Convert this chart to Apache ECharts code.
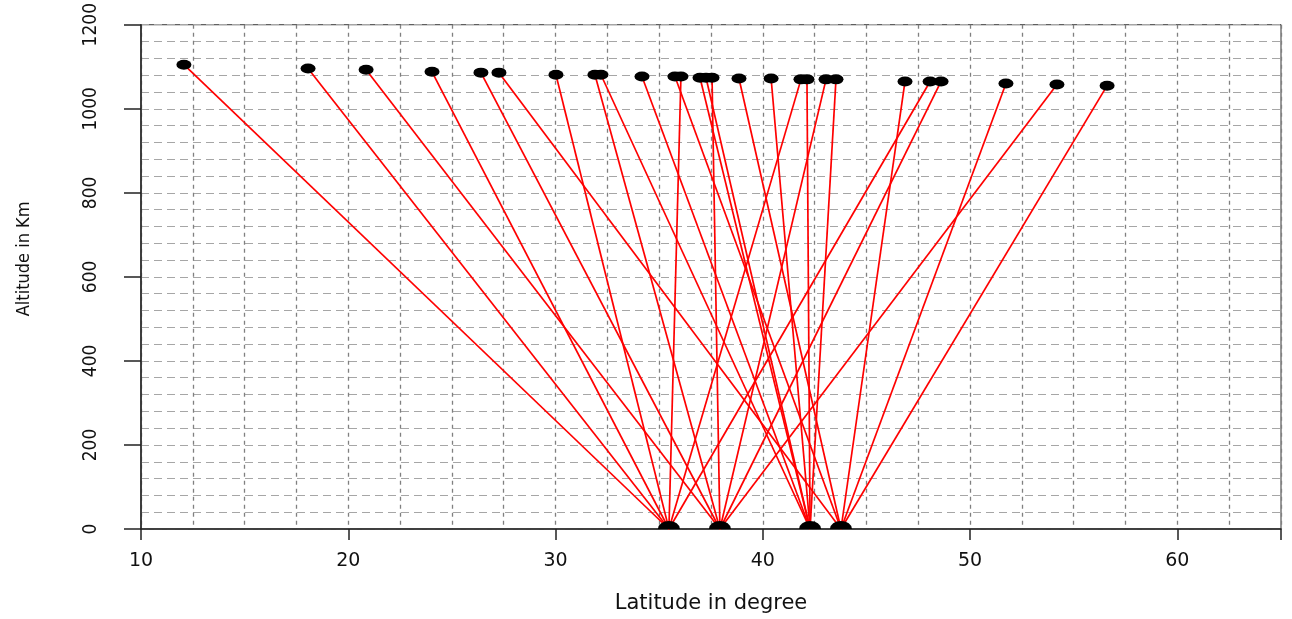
<!DOCTYPE html>
<html>
<head>
<meta charset="utf-8">
<script src="https://cdn.jsdelivr.net/npm/echarts@6/dist/echarts.min.js"></script>
<style>
  html, body { margin: 0; padding: 0; background: #fff; }
  #chart { width: 1292px; height: 619px; }
</style>
</head>
<body>
<div id="chart"></div>
<script>
// satellite positions (latitude in degree, altitude in km)
const satLat = [12.07, 18.06, 20.86, 24.04, 26.40, 27.27, 30.02, 31.90, 32.19, 34.17,
  35.76, 36.05, 36.97, 37.26, 37.55, 38.85, 40.40, 41.84, 42.13, 43.05,
  43.53, 46.86, 48.07, 48.60, 51.73, 54.19, 56.61];
const satAlt = [1105, 1096, 1093, 1088, 1086, 1086, 1081, 1081, 1081, 1077,
  1077, 1077, 1074, 1074, 1074, 1072, 1072, 1070, 1070, 1070,
  1070, 1065, 1065, 1065, 1060, 1058, 1055];
// which ground station each ray goes to (index into stationLat)
const satStation = [0, 0, 1, 0, 1, 3, 0, 1, 2, 2,
  3, 0, 2, 2, 1, 3, 2, 0, 2, 1,
  2, 3, 0, 1, 3, 1, 3];
// ground receivers
const stationLat = [35.47, 37.93, 42.28, 43.77];
const stationAlt = [0, 0, 0, 0];

const xLabelTicks = [10, 20, 30, 40, 50, 60];
const yLabelTicks = [0, 200, 400, 600, 800, 1000, 1200];

const narrowFont = "'DejaVu Sans Condensed', 'Liberation Sans Narrow', 'Liberation Sans', sans-serif";

const chart = echarts.init(document.getElementById("chart"));

const rays = satLat.map((lat, i) => ({
  coords: [[lat, satAlt[i]], [stationLat[satStation[i]], stationAlt[satStation[i]]]],
}));

chart.setOption({
  animation: false,
  backgroundColor: "#ffffff",
  grid: {
    left: 141, right: 11, top: 23, bottom: 90,
    show: true, borderColor: "#333", borderWidth: 1, backgroundColor: "transparent",
  },
  xAxis: [
    {
      type: "value",
      min: 10,
      max: 65,
      interval: 10,
      position: "bottom",
      name: "Latitude in degree",
      nameLocation: "middle",
      nameGap: 64,
      nameTextStyle: { fontFamily: "DejaVu Sans", fontSize: 21, color: "#111" },
      axisLine: { onZero: false, lineStyle: { color: "#222", width: 1.5 } },
      axisTick: { length: 11, lineStyle: { color: "#222", width: 1.5 } },
      axisLabel: {
        margin: 23,
        fontFamily: "DejaVu Sans",
        fontSize: 19,
        color: "#111",
        formatter: (v) => (xLabelTicks.includes(v) ? String(v) : ""),
      },
      splitLine: { show: false },
    },
    {
      type: "value",
      min: 10,
      max: 65,
      interval: 2.5,
      position: "bottom",
      axisLine: { show: false },
      axisTick: { show: false },
      axisLabel: { show: false },
      splitLine: { show: true, lineStyle: { color: "#808080", width: 1.3, type: [4, 4] } },
    },
  ],
  yAxis: [
    {
      type: "value",
      min: 0,
      max: 1200,
      interval: 200,
      name: "Altitude in Km",
      nameLocation: "middle",
      nameGap: 108,
      nameRotate: 90,
      nameTextStyle: {
        fontFamily: narrowFont,
        fontSize: 18,
        color: "#111",
        padding: [0, 0, 0, 36],
      },
      axisLine: { onZero: false, lineStyle: { color: "#222", width: 1.5 } },
      axisTick: { length: 17, lineStyle: { color: "#222", width: 1.5 } },
      axisLabel: {
        rotate: 90,
        margin: 40,
        fontFamily: narrowFont,
        fontSize: 19,
        color: "#111",
        formatter: (v) => (yLabelTicks.includes(v) ? String(v) : ""),
      },
      splitLine: { show: false },
    },
    {
      type: "value",
      min: 0,
      max: 1200,
      interval: 40,
      position: "left",
      axisLine: { show: false },
      axisTick: { show: false },
      axisLabel: { show: false },
      splitLine: { show: true, lineStyle: { color: "#a6a6a6", width: 1.2, type: [8, 5] } },
    },
  ],
  series: [
    {
      name: "rays",
      type: "lines",
      coordinateSystem: "cartesian2d",
      xAxisIndex: 0,
      yAxisIndex: 0,
      silent: true,
      z: 3,
      lineStyle: { color: "#ff0000", width: 1.7, opacity: 1 },
      data: rays,
    },
    {
      name: "satellite",
      type: "scatter",
      xAxisIndex: 0,
      yAxisIndex: 0,
      symbol: "circle",
      symbolSize: [15, 10],
      itemStyle: { color: "#000", opacity: 1 },
      z: 4,
      data: satLat.map((lat, i) => [lat, satAlt[i]]),
    },
    {
      name: "station",
      type: "scatter",
      xAxisIndex: 0,
      yAxisIndex: 0,
      symbol: "path://M0,10 A10,10 0 0 1 20,10 Z",
      symbolKeepAspect: false,
      symbolSize: [22, 8],
      symbolOffset: [0, -4],
      itemStyle: { color: "#000", opacity: 1 },
      z: 4,
      data: stationLat.map((lat, i) => [lat, stationAlt[i]]),
    },
  ],
});
</script>
</body>
</html>
